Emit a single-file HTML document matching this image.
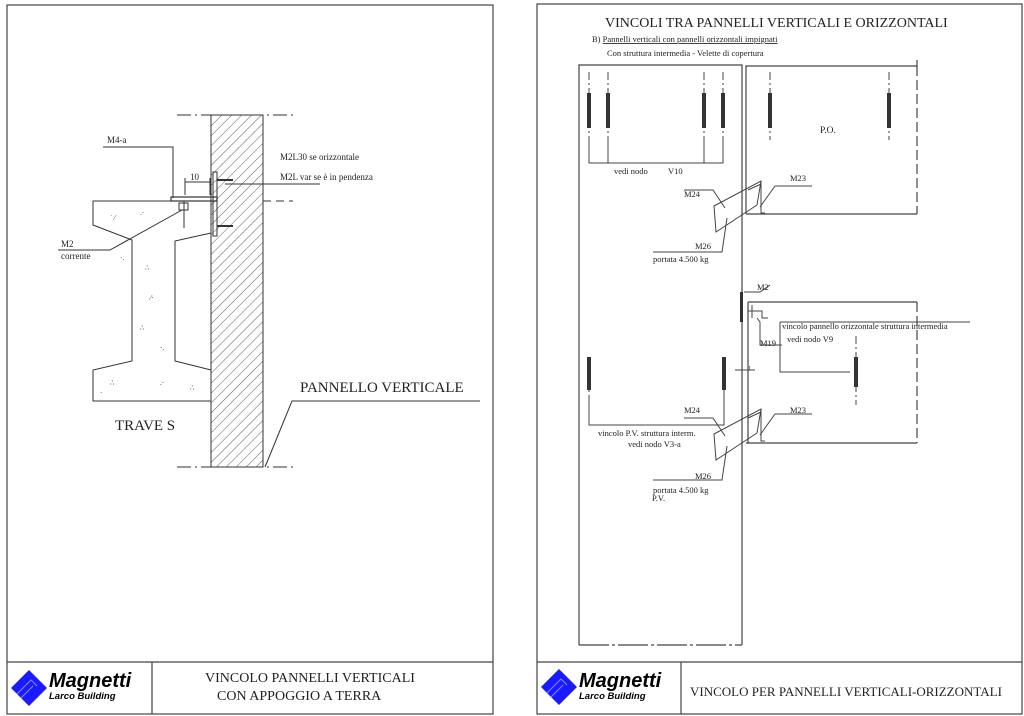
<!DOCTYPE html>
<html><head><meta charset="utf-8"><style>
html,body{margin:0;padding:0;background:#fff;}
svg{display:block;}
text{font-family:"Liberation Serif",serif;fill:#222;}
</style></head><body>
<svg width="1024" height="716" viewBox="0 0 1024 716" xmlns="http://www.w3.org/2000/svg">
<defs>
<pattern id="h" width="7" height="7" patternUnits="userSpaceOnUse" patternTransform="rotate(45)">
<line x1="0" y1="0" x2="0" y2="7" stroke="#333" stroke-width="0.8"/>
</pattern>
<g id="logo">
<polygon points="0,18 18,0 36,18 18,36" fill="#1a1aff"/>
<path d="M6,24 L20,10 L26,16 M10,28 L22,16" stroke="#88f" stroke-width="1" fill="none"/>
</g>
</defs>
<g fill="none" stroke="#444" stroke-width="1.2">
<rect x="7" y="5" width="486" height="709"/>
<line x1="7" y1="662" x2="493" y2="662"/>
<line x1="152" y1="662" x2="152" y2="714"/>
<rect x="537" y="4" width="485" height="710"/>
<line x1="537" y1="662" x2="1022" y2="662"/>
<line x1="681" y1="662" x2="681" y2="714"/>
</g>
<!-- LEFT drawing -->
<rect x="211" y="115" width="52" height="352" fill="url(#h)" stroke="#333" stroke-width="1"/>
<g fill="none" stroke="#333" stroke-width="1">
<path d="M211,201 L93,201 L93,225 L132,240 L132,361 L93,370 L93,401 L211,401"/>
<path d="M211,233 L175,241 L175,361 L211,370"/>
<path d="M177,115 L293,115" stroke-dasharray="14,4,2,4"/>
<path d="M177,467 L293,467" stroke-dasharray="14,4,2,4"/>
<path d="M263,201 L293,201" stroke-dasharray="8,5"/>
<rect x="171" y="197" width="46" height="4" stroke-width="1.2"/>
<rect x="213" y="172" width="4" height="64"/>
<rect x="179" y="203" width="9" height="7"/>
<line x1="184" y1="201" x2="184" y2="228"/>
<path d="M217,180 L233,180 M217,226 L233,226" stroke-width="2"/>
<path d="M103,147 L173,147 L173,198"/>
<path d="M185,178 L185,195 M210,178 L210,195 M185,182 L210,182"/>
<path d="M58,250 L110,250 L182,210"/>
<path d="M225,184 L320,184"/>
<path d="M480,401 L292,401 L265,467"/>
</g>
<g font-size="9">
<text x="107" y="143">M4-a</text>
<text x="190" y="180">10</text>
<text x="61" y="247">M2</text>
<text x="61" y="259">corrente</text>
<text x="280" y="160">M2L30 se orizzontale</text>
<text x="280" y="180">M2L var se è in pendenza</text>
</g>
<text x="300" y="392" font-size="15">PANNELLO VERTICALE</text>
<text x="115" y="430" font-size="15">TRAVE S</text>
<g fill="#333" font-size="7">
<text x="110" y="220">˙ ⁄</text><text x="140" y="215">.·</text><text x="120" y="260">·.</text><text x="145" y="270">∴</text><text x="150" y="300">⁄·</text><text x="140" y="330">∴</text><text x="160" y="350">·.</text><text x="110" y="385">∴</text><text x="160" y="385">.·</text><text x="190" y="390">∴</text><text x="100" y="395">·</text>
</g>
<!-- left title -->
<use href="#logo" x="11" y="670"/>
<text x="49" y="687" font-weight="bold" font-style="italic" font-size="20" style="font-family:'Liberation Sans',sans-serif;fill:#000">Magnetti</text>
<text x="49" y="699" font-weight="bold" font-style="italic" font-size="9.5" style="font-family:'Liberation Sans',sans-serif;fill:#000">Larco Building</text>
<text x="205" y="682" font-size="14">VINCOLO PANNELLI VERTICALI</text>
<text x="217" y="700" font-size="14">CON APPOGGIO A TERRA</text>

<!-- RIGHT drawing -->
<text x="605" y="27" font-size="14">VINCOLI TRA PANNELLI VERTICALI E ORIZZONTALI</text>
<text x="592" y="42" font-size="8.5">B) <tspan text-decoration="underline">Pannelli verticali con pannelli orizzontali impignati</tspan></text>
<text x="607" y="56" font-size="8.5">Con struttura intermedia - Velette di copertura</text>
<g fill="none" stroke="#444" stroke-width="1.2">
<path d="M579,645 L579,65 L742,65 L742,645"/>
<path d="M579,645 L742,645" stroke-dasharray="30,3,3,3"/>
<path d="M746,214 L746,66 L917,66 L917,60"/>
<path d="M917,66 L917,214" stroke-dasharray="10,4"/>
<path d="M746,214 L917,214"/>
<path d="M917,302 L917,443" stroke-dasharray="10,4"/>
<path d="M748,302 L917,302 M746,443 L917,443"/>
<path d="M748,302 L748,443"/>
</g>
<g fill="none" stroke="#444" stroke-width="1">
<path d="M589,72 L589,148 M608,72 L608,148 M704,72 L704,148 M723,72 L723,148 M770,72 L770,140 M889,72 L889,140" stroke-dasharray="8,3,2,3"/>
<path d="M589,140 L589,163 L723,163 L723,140 M608,140 L608,163 M704,140 L704,163"/>
<path d="M780,322 L970,322 M780,322 L780,372 L850,372"/>
<path d="M589,363 L589,425 L724,425 L724,363" stroke-dasharray="8,3,2,3"/>
<path d="M856,336 L856,405" stroke-dasharray="8,3,2,3"/>
<path d="M589,395 L589,425 L724,425 L724,395"/>
<g id="br">
<polygon points="714,206 761,181 757,205 716,232"/>
<path d="M761,181 L761,213 L765,213 M748,190 L761,184"/>
<path d="M684,190 L713,190 L725,208 M760,207 L775,186 L812,186 M653,252 L722,252 L727,218"/>
</g>
<use href="#br" y="228"/>
<path d="M757,318 L760,322 L760,345 L782,345"/>
<path d="M744,292 L760,292 L770,285"/>
<path d="M748,311 L762,311 L762,318 L768,318 M752,305 L752,318"/>
<path d="M735,370 L755,370"/>
</g>
<g fill="#333">
<rect x="587" y="93" width="4" height="35"/><rect x="606" y="93" width="4" height="35"/><rect x="702" y="93" width="4" height="35"/><rect x="721" y="93" width="4" height="35"/><rect x="768" y="93" width="4" height="35"/><rect x="887" y="93" width="4" height="35"/>
<rect x="587" y="357" width="4" height="33"/><rect x="722" y="357" width="4" height="33"/><rect x="854" y="357" width="4" height="30"/>
<rect x="740" y="292" width="3" height="30"/>
</g>
<g font-size="8.5">
<text x="614" y="174">vedi nodo</text><text x="668" y="174">V10</text>
<text x="820" y="133" font-size="9.5">P.O.</text>
<text x="790" y="181">M23</text><text x="684" y="197">M24</text>
<text x="695" y="249">M26</text><text x="653" y="262">portata 4.500 kg</text>
<text x="757" y="290">M2</text>
<text x="782" y="329">vincolo pannello orizzontale struttura intermedia</text>
<text x="787" y="342">vedi nodo V9</text>
<text x="760" y="346">M19</text>
<text x="748" y="370" font-size="6">1</text>
<text x="790" y="413">M23</text><text x="684" y="413">M24</text>
<text x="598" y="436">vincolo P.V. struttura interm.</text>
<text x="628" y="447">vedi nodo V3-a</text>
<text x="695" y="479">M26</text><text x="653" y="493">portata 4.500 kg</text>
<text x="652" y="501">P.V.</text>
</g>
<use href="#logo" x="541" y="669"/>
<text x="579" y="687" font-weight="bold" font-style="italic" font-size="20" style="font-family:'Liberation Sans',sans-serif;fill:#000">Magnetti</text>
<text x="579" y="699" font-weight="bold" font-style="italic" font-size="9.5" style="font-family:'Liberation Sans',sans-serif;fill:#000">Larco Building</text>
<text x="690" y="696" font-size="13">VINCOLO PER PANNELLI VERTICALI-ORIZZONTALI</text>
</svg>
</body></html>
